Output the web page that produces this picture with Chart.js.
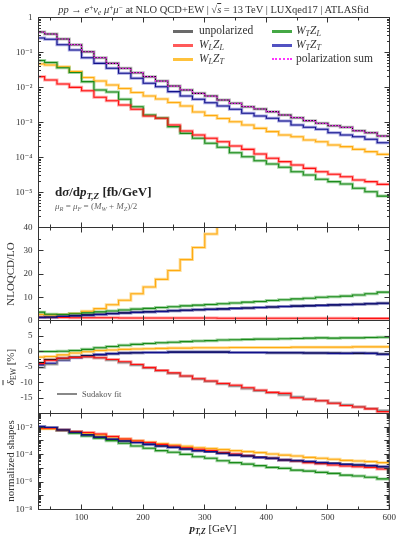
<!DOCTYPE html>
<html lang="en">
<head>
<meta charset="UTF-8">
<title>pT,Z distribution - polarized WZ</title>
<script src="https://cdn.jsdelivr.net/npm/chart.js"></script>
<style>
  body { margin: 0; background: #fff; }
  #wrap { position: relative; width: 399px; height: 539px; font-family: 'Liberation Serif', 'DejaVu Serif', serif; color: #333; overflow: hidden; }
  #wrap canvas { position: absolute; left: 0; top: 0; }
  .t { position: absolute; white-space: nowrap; line-height: 1; }
  .t sub { font-size: 70%; vertical-align: -0.3em; line-height: 0; }
  .t sup { font-size: 70%; vertical-align: 0.45em; line-height: 0; }
  .sw { position: absolute; width: 20px; height: 3px; }
  .rot { transform: translate(-50%, -50%) rotate(-90deg); }
</style>
</head>
<body>
<div id="wrap">
  <canvas id="cMain" width="399" height="539"></canvas>
  <canvas id="cRatio" width="399" height="539"></canvas>
  <canvas id="cEw" width="399" height="539"></canvas>
  <canvas id="cShape" width="399" height="539"></canvas>

  <!-- titre -->
  <div class="t" style="left:14px;width:399px;text-align:center;top:5px;font-size:10.5px;">
    <i>pp</i> → <i>e</i><sup>+</sup><i>ν</i><sub><i>e</i></sub> <i>μ</i><sup>+</sup><i>μ</i><sup>−</sup> at NLO QCD+EW | √<span style="text-decoration:overline"><i>s</i></span> = 13 TeV | LUXqed17 | ATLASfid
  </div>

  <!-- legende -->
  <div class="sw" style="left:173px;top:30px;background:#6a6a6a"></div>
  <div class="t" style="left:199px;top:25px;font-size:11.5px;">unpolarized</div>
  <div class="sw" style="left:173px;top:44px;background:#ff5a5a"></div>
  <div class="t" style="left:199px;top:39px;font-size:11.5px;"><i>W</i><sub><i>L</i></sub><i>Z</i><sub><i>L</i></sub></div>
  <div class="sw" style="left:173px;top:58px;background:#ffc23c"></div>
  <div class="t" style="left:199px;top:53px;font-size:11.5px;"><i>W</i><sub><i>L</i></sub><i>Z</i><sub><i>T</i></sub></div>
  <div class="sw" style="left:272px;top:30px;background:#45a845"></div>
  <div class="t" style="left:296px;top:25px;font-size:11.5px;"><i>W</i><sub><i>T</i></sub><i>Z</i><sub><i>L</i></sub></div>
  <div class="sw" style="left:272px;top:44px;background:#5252c2"></div>
  <div class="t" style="left:296px;top:39px;font-size:11.5px;"><i>W</i><sub><i>T</i></sub><i>Z</i><sub><i>T</i></sub></div>
  <div class="sw" style="left:272px;top:58px;height:0;border-top:2px dotted #ff33ff"></div>
  <div class="t" style="left:296px;top:53px;font-size:11.5px;">polarization sum</div>

  <div class="t" style="left:55px;top:185px;font-size:13px;color:#222;"><b>d<i>σ</i>/d<i>p</i><sub><i>T,Z</i></sub> [fb/GeV]</b></div>
  <div class="t" style="left:55px;top:202px;font-size:9px;color:#666;"><i>μ</i><sub><i>R</i></sub> = <i>μ</i><sub><i>F</i></sub> = (<i>M</i><sub><i>W</i></sub> + <i>M</i><sub><i>Z</i></sub>)/2</div>

  <!-- titres des axes -->
  <div class="t rot" style="left:10px;top:274px;font-size:11px;">NLOQCD/LO</div>
  <div class="t rot" style="left:10px;top:367px;font-size:11px;"><span style="text-decoration:overline"><i>δ</i></span><sub>EW</sub> [%]</div>
  <div class="t rot" style="left:10px;top:461px;font-size:11px;">normalized shapes</div>
  <div class="t" style="left:213px;top:523px;font-size:11px;transform:translateX(-50%);color:#222;"><b><i>p</i><sub><i>T,Z</i></sub></b> [GeV]</div>

  <!-- Sudakov -->
  <div class="sw" style="left:57px;top:393px;height:1.5px;background:#888"></div>
  <div class="t" style="left:82px;top:390px;font-size:8.5px;color:#555;">Sudakov fit</div>
</div>

<script>
// bords des bins en pT,Z (GeV)
const ptEdges = [30, 40, 60, 80, 100, 120, 140, 160, 180, 200, 220, 240, 260, 280, 300,
                 320, 340, 360, 380, 400, 420, 440, 460, 480, 500, 520, 540, 560, 580, 600];

// panneau 1 : dsigma/dpT,Z [fb/GeV]
const xsUnpol  = [0.385, 0.338, 0.243, 0.167, 0.105, 0.071, 0.049, 0.0354, 0.0265, 0.0204, 0.0153, 0.011, 0.0085, 0.0068, 0.0057,
                  0.0044, 0.00354, 0.00283, 0.00243, 0.00204, 0.00164, 0.00137, 0.00113, 9.5e-4, 8.1e-4, 7.3e-4, 5.8e-4, 5.1e-4, 4.1e-4];
const xsPolSum = [0.385, 0.338, 0.243, 0.167, 0.105, 0.071, 0.049, 0.0354, 0.0265, 0.0204, 0.0153, 0.011, 0.0085, 0.0068, 0.0057,
                  0.0044, 0.00354, 0.00283, 0.00243, 0.00204, 0.00164, 0.00137, 0.00113, 9.5e-4, 8.1e-4, 7.3e-4, 5.8e-4, 5.1e-4, 4.1e-4];
const xsWLZL   = [0.0204, 0.0164, 0.0126, 0.0101, 0.0081, 0.00525, 0.0042, 0.00316, 0.00238, 0.00153, 0.00132, 8.5e-4, 5.7e-4, 4.4e-4, 3.54e-4,
                  2.83e-4, 2.13e-4, 1.71e-4, 1.26e-4, 9.5e-5, 7.6e-5, 6.1e-5, 4.9e-5, 3.93e-5, 3.31e-5, 2.83e-5, 2.28e-5, 2.04e-5, 1.71e-5];
const xsWLZT   = [0.047, 0.044, 0.0393, 0.0286, 0.0193, 0.0153, 0.0118, 0.00936, 0.0072, 0.0057, 0.00469, 0.00373, 0.00296, 0.002, 0.00158,
                  0.0013, 0.00105, 8.5e-4, 6.8e-4, 5.5e-4, 4.4e-4, 3.93e-4, 3.16e-4, 2.83e-4, 2.28e-4, 2.04e-4, 1.71e-4, 1.47e-4, 1.23e-4];
const xsWTZL   = [0.059, 0.0518, 0.0368, 0.0268, 0.0147, 0.0085, 0.00743, 0.0046, 0.00283, 0.00164, 0.00134, 7.6e-4, 4.9e-4, 3.54e-4, 2.55e-4,
                  1.96e-4, 1.37e-4, 1.05e-4, 8.1e-5, 6.5e-5, 5.25e-5, 3.93e-5, 3.16e-5, 2.38e-5, 2.04e-5, 1.75e-5, 1.32e-5, 1.05e-5, 7.9e-6];
const xsWTZT   = [0.26, 0.238, 0.167, 0.118, 0.071, 0.049, 0.0354, 0.0255, 0.0183, 0.0132, 0.0105, 0.0076, 0.0057, 0.0046, 0.00368,
                  0.00296, 0.00238, 0.00183, 0.00153, 0.00132, 0.0011, 8.5e-4, 7.3e-4, 6.4e-4, 5.1e-4, 4.4e-4, 3.93e-4, 3.31e-4, 2.65e-4];

// panneau 2 : NLO QCD / LO (WLZT sort du cadre apres 320 GeV)
const kUnpol = [1.4, 1.5, 1.8, 2.1, 2.4, 2.7, 3.0, 3.3, 3.5, 3.8, 4.0, 4.2, 4.4, 4.6, 4.8, 5.0, 5.2, 5.4, 5.6, 5.8, 6.0, 6.2, 6.4, 6.5, 6.7, 6.9, 7.0, 7.2, 7.4];
const kWLZL  = [1.4, 1.3, 1.3, 1.2, 1.2, 1.2, 1.2, 1.1, 1.1, 1.1, 1.1, 1.1, 1.1, 1.1, 1.1, 1.0, 1.0, 1.0, 1.0, 1.0, 1.0, 1.0, 1.0, 1.0, 1.0, 1.0, 0.9, 0.9, 0.9];
const kWLZT  = [2.6, 2.4, 2.6, 3.0, 4.0, 5.1, 6.8, 8.7, 11.5, 14.4, 17.7, 21.5, 26.2, 31.4, 37.2, 44];
const kWTZL  = [3.6, 2.7, 2.6, 2.9, 3.3, 3.7, 4.1, 4.5, 4.9, 5.2, 5.6, 5.9, 6.3, 6.6, 6.9, 7.2, 7.5, 7.9, 8.2, 8.6, 8.9, 9.3, 9.6, 10.0, 10.2, 10.5, 11.0, 11.5, 12.2];
const kWTZT  = [1.3, 1.4, 1.7, 2.0, 2.3, 2.6, 2.9, 3.2, 3.5, 3.7, 3.9, 4.2, 4.4, 4.6, 4.8, 5.0, 5.2, 5.4, 5.6, 5.8, 6.0, 6.2, 6.3, 6.5, 6.7, 6.8, 7.0, 7.2, 7.4];

// panneau 3 : delta EW [%]
const ewUnpol   = [-3.6, -2.6, -2.2, -1.8, -1.3, -1.0, -0.7, -0.5, -0.4, -0.3, -0.3, -0.2, -0.2, -0.2, -0.2, -0.2, -0.3, -0.3, -0.3, -0.4, -0.4, -0.4, -0.5, -0.5, -0.5, -0.6, -0.6, -0.6, -0.8];
const ewWLZL    = [-3.9, -2.8, -2.2, -1.9, -1.7, -2.0, -2.6, -3.3, -4.2, -5.2, -6.1, -6.9, -7.9, -8.8, -9.5, -10.3, -10.9, -11.7, -12.5, -13.2, -13.5, -14.9, -15.4, -15.9, -16.7, -17.4, -17.9, -18.5, -19.4];
const ewWLZT    = [-1.8, -1.6, -1.1, -0.5, -0.1, 0.3, 0.5, 0.7, 0.8, 0.9, 1.0, 1.1, 1.1, 1.2, 1.2, 1.2, 1.3, 1.3, 1.3, 1.3, 1.3, 1.4, 1.4, 1.4, 1.4, 1.4, 1.5, 1.5, 1.5];
const ewWTZL    = [0.0, 0.0, 0.1, 0.3, 0.7, 1.2, 1.6, 2.0, 2.3, 2.6, 2.8, 3.0, 3.2, 3.4, 3.5, 3.7, 3.8, 3.9, 4.0, 4.0, 4.1, 4.2, 4.3, 4.4, 4.3, 4.4, 4.4, 4.5, 4.6];
const ewWTZT    = [-4.3, -3.8, -2.8, -2.0, -1.5, -1.0, -0.7, -0.5, -0.4, -0.3, -0.3, -0.2, -0.2, -0.2, -0.2, -0.2, -0.3, -0.3, -0.3, -0.4, -0.4, -0.4, -0.5, -0.5, -0.6, -0.6, -0.5, -0.6, -0.9];
const ewSudakov = [-5.2, -4.2, -2.7, -1.9, -1.7, -2.1, -2.8, -3.6, -4.4, -5.3, -6.2, -7.1, -8.0, -8.9, -9.7, -10.5, -11.2, -12.0, -12.7, -13.3, -14.0, -14.6, -15.3, -15.9, -16.6, -17.2, -17.8, -18.4, -19.0];

// panneau 4 : formes normalisees
const shUnpol = [1.1e-2, 9.5e-3, 6.3e-3, 4.3e-3, 2.8e-3, 1.9e-3, 1.32e-3, 1.0e-3, 7.6e-4, 5.6e-4, 4.3e-4, 3.4e-4, 2.6e-4, 1.95e-4, 1.66e-4,
                 1.26e-4, 9.3e-5, 7.9e-5, 6.3e-5, 5.4e-5, 4.1e-5, 3.6e-5, 3.1e-5, 2.6e-5, 2.3e-5, 1.95e-5, 1.74e-5, 1.58e-5, 1.32e-5];
const shWLZL  = [8.3e-3, 8.3e-3, 6.3e-3, 4.8e-3, 4.1e-3, 3.2e-3, 2.1e-3, 1.38e-3, 1.0e-3, 7.6e-4, 5.6e-4, 4.3e-4, 3.2e-4, 2.45e-4, 2.0e-4,
                 1.41e-4, 1.12e-4, 8.5e-5, 6.3e-5, 5.4e-5, 4.1e-5, 3.4e-5, 2.6e-5, 2.2e-5, 1.74e-5, 1.48e-5, 1.32e-5, 1.17e-5, 8.9e-6];
const shWLZT  = [7.6e-3, 7.6e-3, 6.0e-3, 4.8e-3, 3.6e-3, 2.75e-3, 1.95e-3, 1.38e-3, 1.05e-3, 7.9e-4, 6.3e-4, 5.0e-4, 4.1e-4, 3.2e-4, 2.75e-4,
                 2.34e-4, 1.95e-4, 1.66e-4, 1.41e-4, 1.12e-4, 9.3e-5, 7.9e-5, 6.3e-5, 5.4e-5, 4.6e-5, 3.8e-5, 3.4e-5, 3.1e-5, 2.6e-5];
const shWTZL  = [1.0e-2, 8.3e-3, 5.75e-3, 3.6e-3, 2.3e-3, 1.55e-3, 1.05e-3, 6.8e-4, 4.3e-4, 2.9e-4, 1.95e-4, 1.48e-4, 1.05e-4, 7.1e-5, 5.4e-5,
                 3.6e-5, 2.6e-5, 2.04e-5, 1.58e-5, 1.17e-5, 1.0e-5, 7.4e-6, 6.3e-6, 5.1e-6, 4.3e-6, 3.2e-6, 2.75e-6, 2.24e-6, 1.7e-6];
const shWTZT  = [1.12e-2, 9.5e-3, 6.3e-3, 4.3e-3, 2.75e-3, 1.86e-3, 1.32e-3, 1.0e-3, 7.6e-4, 5.6e-4, 4.3e-4, 3.4e-4, 2.6e-4, 1.95e-4, 1.66e-4,
                 1.26e-4, 9.3e-5, 7.9e-5, 6.3e-5, 5.4e-5, 4.1e-5, 3.6e-5, 3.1e-5, 2.6e-5, 2.3e-5, 1.95e-5, 1.74e-5, 1.58e-5, 1.32e-5];

// graduations
const xLabelTicks = [100, 200, 300, 400, 500, 600];
const xMinorTicks = [50, 150, 250, 350, 450, 550];
const mainLabels  = [1, 1e-1, 1e-2, 1e-3, 1e-4, 1e-5];
const ratioLabels = [0, 10, 20, 30, 40];
const ewLabels    = [5, 0, -5, -10, -15];
const shapeLabels = [1e-2, 1e-4, 1e-6, 1e-8];

const FONT = "'Liberation Serif', 'DejaVu Serif', serif";

// couleurs : trait fin + bande claire
const col = {
  unpol: ['#111111', 'rgba(120,120,120,0.5)'],
  wlzl:  ['#ff1010', 'rgba(255,90,90,0.55)'],
  wlzt:  ['#ffaa10', 'rgba(255,195,70,0.55)'],
  wtzl:  ['#1a8a1a', 'rgba(70,170,70,0.5)'],
  wtzt:  ['#10108a', 'rgba(80,80,200,0.5)'],
  sud:   ['#8a8a8a', 'rgba(170,170,170,0.5)']
};

// points en escalier : valeur du bin au bord gauche + point final au bord droit
function stepPoints(vals) {
  const pts = vals.map((v, i) => ({ x: ptEdges[i], y: v }));
  pts.push({ x: ptEdges[vals.length], y: vals[vals.length - 1] });
  return pts;
}

function series(vals, c, order) {
  return [
    { data: stepPoints(vals), borderColor: c[0], borderWidth: 1.1, stepped: 'before', pointRadius: 0, order: order },
    { data: stepPoints(vals), borderColor: c[1], borderWidth: 3, stepped: 'before', pointRadius: 0, order: 20 + order }
  ];
}

const supDigits = { '0': '⁰', '1': '¹', '2': '²', '3': '³', '4': '⁴', '5': '⁵', '6': '⁶', '7': '⁷', '8': '⁸', '9': '⁹', '-': '⁻' };
function logLabel(v) {
  const e = Math.round(Math.log10(v));
  if (e === 0) return '1';
  return '10' + String(e).split('').map(ch => supDigits[ch]).join('');
}

function logMinor(loExp, hiExp) {
  const out = [];
  for (let e = loExp; e < hiExp; e++) {
    for (let k = 1; k < 10; k++) out.push(k * Math.pow(10, e));
  }
  out.push(Math.pow(10, hiExp));
  return out;
}
function decades(loExp, hiExp) {
  const out = [];
  for (let e = loExp; e <= hiExp; e++) out.push(Math.pow(10, e));
  return out;
}

// cadre + petites graduations vers l'interieur
const frameTicks = {
  id: 'frameTicks',
  afterDatasetsDraw(chart, args, opts) {
    const { ctx, chartArea: a } = chart;
    const x = chart.scales.x, y = chart.scales.y;
    ctx.save();
    ctx.strokeStyle = '#333';
    ctx.lineWidth = 1;
    ctx.beginPath();
    const vx = (v, len) => {
      const px = Math.round(x.getPixelForValue(v) - 0.5) + 0.5;
      ctx.moveTo(px, a.top); ctx.lineTo(px, a.top + len);
      ctx.moveTo(px, a.bottom); ctx.lineTo(px, a.bottom - len);
    };
    const hy = (v, len) => {
      const py = Math.round(y.getPixelForValue(v) - 0.5) + 0.5;
      ctx.moveTo(a.left, py); ctx.lineTo(a.left + len, py);
      ctx.moveTo(a.right, py); ctx.lineTo(a.right - len, py);
    };
    xLabelTicks.forEach(v => vx(v, 5));
    xMinorTicks.forEach(v => vx(v, 3));
    opts.major.forEach(v => hy(v, 5));
    opts.minor.forEach(v => hy(v, 2.5));
    ctx.stroke();
    ctx.strokeRect(a.left, a.top, a.right - a.left, a.bottom - a.top);
    ctx.restore();
  }
};

const tickFont = { family: FONT, size: 9 };

function makePanel(id, top, bottom, yScale, datasets, tickOpts, showX) {
  const xAxisH = showX ? 16 : 0;
  return new Chart(document.getElementById(id), {
    type: 'line',
    data: { datasets: datasets },
    options: {
      responsive: false,
      animation: false,
      events: [],
      layout: { padding: { left: 0, right: 9.5, top: top, bottom: 539 - bottom - xAxisH } },
      plugins: { legend: { display: false }, tooltip: { enabled: false }, frameTicks: tickOpts },
      scales: {
        x: {
          type: 'linear', min: 30, max: 600, display: showX,
          grid: { display: false, drawTicks: false },
          border: { display: false },
          afterBuildTicks: s => { s.ticks = xLabelTicks.map(v => ({ value: v })); },
          ticks: { font: tickFont, color: '#333', padding: 3, maxRotation: 0, autoSkip: false },
          afterFit: s => { s.height = xAxisH; }
        },
        y: Object.assign({
          grid: { display: false, drawTicks: false },
          border: { display: false },
          afterFit: s => { s.width = 38.5; }
        }, yScale)
      }
    },
    plugins: [frameTicks]
  });
}

// panneau 1
makePanel('cMain', 17.5, 227.5, {
  type: 'logarithmic', min: 1e-6, max: 1,
  afterBuildTicks: s => { s.ticks = mainLabels.map(v => ({ value: v })); },
  ticks: { font: tickFont, color: '#333', padding: 6, autoSkip: false, callback: v => logLabel(v) }
}, [
  { data: stepPoints(xsPolSum), borderColor: '#ff22ff', borderWidth: 1.2, borderDash: [1.5, 1.5], stepped: 'before', pointRadius: 0, order: 0 },
  ...series(xsUnpol, col.unpol, 1),
  ...series(xsWTZT, col.wtzt, 2),
  ...series(xsWLZL, col.wlzl, 3),
  ...series(xsWTZL, col.wtzl, 4),
  ...series(xsWLZT, col.wlzt, 5)
], { major: decades(-6, 0), minor: logMinor(-6, 0) }, false);

// panneau 2
makePanel('cRatio', 227.5, 320.5, {
  type: 'linear', min: 0, max: 40,
  afterBuildTicks: s => { s.ticks = ratioLabels.map(v => ({ value: v })); },
  ticks: { font: tickFont, color: '#333', padding: 6, autoSkip: false }
}, [
  ...series(kUnpol, col.unpol, 2),
  ...series(kWTZT, col.wtzt, 1),
  ...series(kWLZL, col.wlzl, 3),
  ...series(kWTZL, col.wtzl, 4),
  ...series(kWLZT, col.wlzt, 5)
], { major: [0, 10, 20, 30, 40], minor: [5, 15, 25, 35] }, false);

// panneau 3
makePanel('cEw', 320.5, 413.5, {
  type: 'linear', min: -20, max: 10,
  afterBuildTicks: s => { s.ticks = ewLabels.map(v => ({ value: v })); },
  ticks: { font: tickFont, color: '#333', padding: 6, autoSkip: false }
}, [
  ...series(ewWLZL, col.wlzl, 1),
  ...series(ewSudakov, col.sud, 2),
  ...series(ewUnpol, col.unpol, 4),
  ...series(ewWTZT, col.wtzt, 3),
  ...series(ewWTZL, col.wtzl, 5),
  ...series(ewWLZT, col.wlzt, 6)
], { major: [-20, -15, -10, -5, 0, 5, 10], minor: [-17.5, -12.5, -7.5, -2.5, 2.5, 7.5] }, false);

// panneau 4
makePanel('cShape', 413.5, 509.5, {
  type: 'logarithmic', min: 1e-8, max: 1e-1,
  afterBuildTicks: s => { s.ticks = shapeLabels.map(v => ({ value: v })); },
  ticks: { font: tickFont, color: '#333', padding: 6, autoSkip: false, callback: v => logLabel(v) }
}, [
  ...series(shUnpol, col.unpol, 2),
  ...series(shWTZT, col.wtzt, 1),
  ...series(shWLZL, col.wlzl, 3),
  ...series(shWLZT, col.wlzt, 4),
  ...series(shWTZL, col.wtzl, 5)
], { major: decades(-8, -1), minor: logMinor(-8, -1) }, true);
</script>
</body>
</html>
